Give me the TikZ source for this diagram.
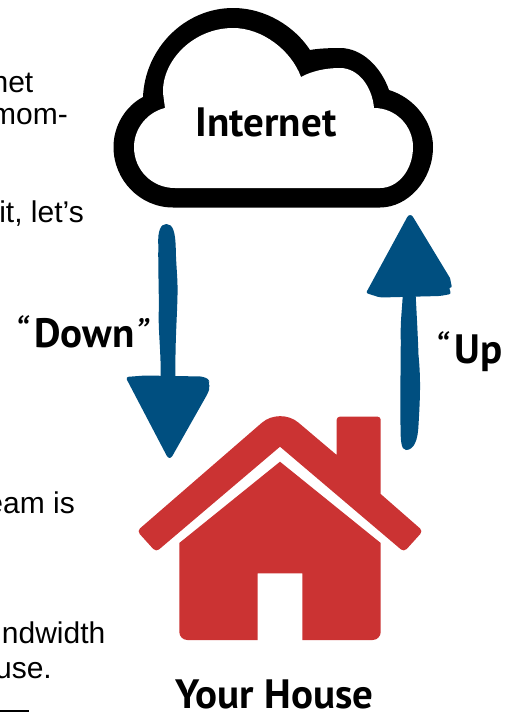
\documentclass[tikz,border=0pt]{standalone}
\usepackage{fontspec}
\setmainfont{Liberation Sans}
\newfontfamily\labelfont{PT Sans}
\definecolor{pipeBlue}{HTML}{004F80}
\definecolor{houseRed}{HTML}{CB3333}
\newcommand{\thinquote}[1]{{\fontseries{m}\itshape #1}}
\begin{document}
\begin{tikzpicture}[x=1pt,y=-1pt,
  bodytext/.style={anchor=base east,inner sep=0pt,font=\fontsize{30}{32}\selectfont},
  biglabel/.style={inner sep=0pt,font=\labelfont\bfseries\fontsize{41}{44}\selectfont}]
\useasboundingbox (0,0) rectangle (505,713);
% text running behind the figure
\node[bodytext] (line1) at (33.5,92.7) {net};
\node[bodytext] (line2) at (68,124) {mom-};
\node[bodytext] (line3) at (84,222.7) {it, let's};
\node[bodytext] (line4) at (75,513) {eam is};
\node[bodytext] (line5) at (105.5,643) {ndwidth};
\node[bodytext] (line6) at (52,678) {use.};
\fill[black] (0,710) rectangle (29,712);
% cloud
\fill[black] (173,207.5) .. controls (140,207.5) and (113.5,180) .. (113.5,147)
  .. controls (113.5,125) and (126,106) .. (143,97)
  .. controls (145,48) and (185,8) .. (233,8)
  .. controls (266,8) and (295,27) .. (310,50)
  .. controls (318,48.5) and (330,48) .. (340,48)
  .. controls (362,48) and (381,67) .. (389,90)
  .. controls (415,98) and (433,122) .. (433,147)
  .. controls (433,180) and (408,207.5) .. (380,207.5) -- cycle;
\fill[white] (175,188) .. controls (152,188) and (134,170) .. (134,147)
  .. controls (134,128) and (148,112) .. (165,108)
  -- (163,93)
  .. controls (162,60) and (194,28) .. (233,28)
  .. controls (262,28) and (291,50) .. (301,77)
  .. controls (312,71) and (326,68) .. (340,68)
  .. controls (358,68) and (372,86) .. (374,108)
  .. controls (396,108) and (413,126) .. (413,147)
  .. controls (413,170) and (398,188) .. (380,188) -- cycle;
\node[biglabel,anchor=base] (internet) at (266,136.5) {Internet};
% down arrow
\fill[pipeBlue] (158.3,245) .. controls (157.5,230) and (161,224) .. (166.5,224)
  .. controls (173,224) and (175.5,232) .. (175.8,250)
  .. controls (176,265) and (178,280) .. (177.5,295)
  .. controls (177,320) and (175,340) .. (175.5,378) -- (160.7,378)
  .. controls (161,350) and (158,330) .. (158.8,310)
  .. controls (159,290) and (158,270) .. (158.3,245) -- cycle;
\fill[pipeBlue,rounded corners=3pt] (145,375.5) -- (203,376.5) -- (210,380)
  -- (208,384) -- (210,387) -- (208,393) [rounded corners=6pt] -- (169.5,461)
  [rounded corners=3pt] -- (125.5,377) -- cycle;
\node[biglabel,anchor=base west] (down) at (14,347) {\thinquote{“}\,Down\thinquote{”}};
% up arrow
\fill[pipeBlue,rounded corners=2pt] (450,278)
  -- (452,288) -- (449,287) -- (451,294) -- (440,296) -- (380,297.5) -- (366,293)
  [rounded corners=6pt] -- (410,212) [rounded corners=0pt] -- cycle;
\fill[pipeBlue] (402.7,296) -- (415.7,296)
  .. controls (417,320) and (418,340) .. (418.5,355)
  .. controls (421,380) and (420,400) .. (418.5,425)
  .. controls (418,440) and (414,450) .. (406,450)
  .. controls (401,450) and (400.5,440) .. (400.5,425)
  .. controls (400,390) and (401,350) .. (400.7,335)
  .. controls (400.5,320) and (402,310) .. (402.7,296) -- cycle;
\node[biglabel,anchor=base west] (up) at (434,363) {\thinquote{“}\,Up};
% house
\fill[houseRed] (336.7,455)
  [rounded corners=3pt] -- (336.7,416.7) -- (380.7,416.7) [rounded corners=0pt] -- (380.7,494)
  [rounded corners=4pt] -- (423,531) -- (404,552) [rounded corners=0pt] -- (280,446.7)
  [rounded corners=4pt] -- (156,552) -- (137,531)
  [rounded corners=24pt] -- (280,407) [rounded corners=0pt] -- cycle;
\fill[houseRed] (280,461.7) -- (380.7,543) [rounded corners=8pt] -- (380.7,640)
  [rounded corners=0pt] -- (302.3,640) -- (302.3,573.3) -- (257.7,573.3) -- (257.7,640)
  [rounded corners=8pt] -- (179.3,640) [rounded corners=0pt] -- (179.3,543) -- cycle;
\node[biglabel,anchor=base] (house) at (274.5,708) {Your House};
\end{tikzpicture}
\end{document}
